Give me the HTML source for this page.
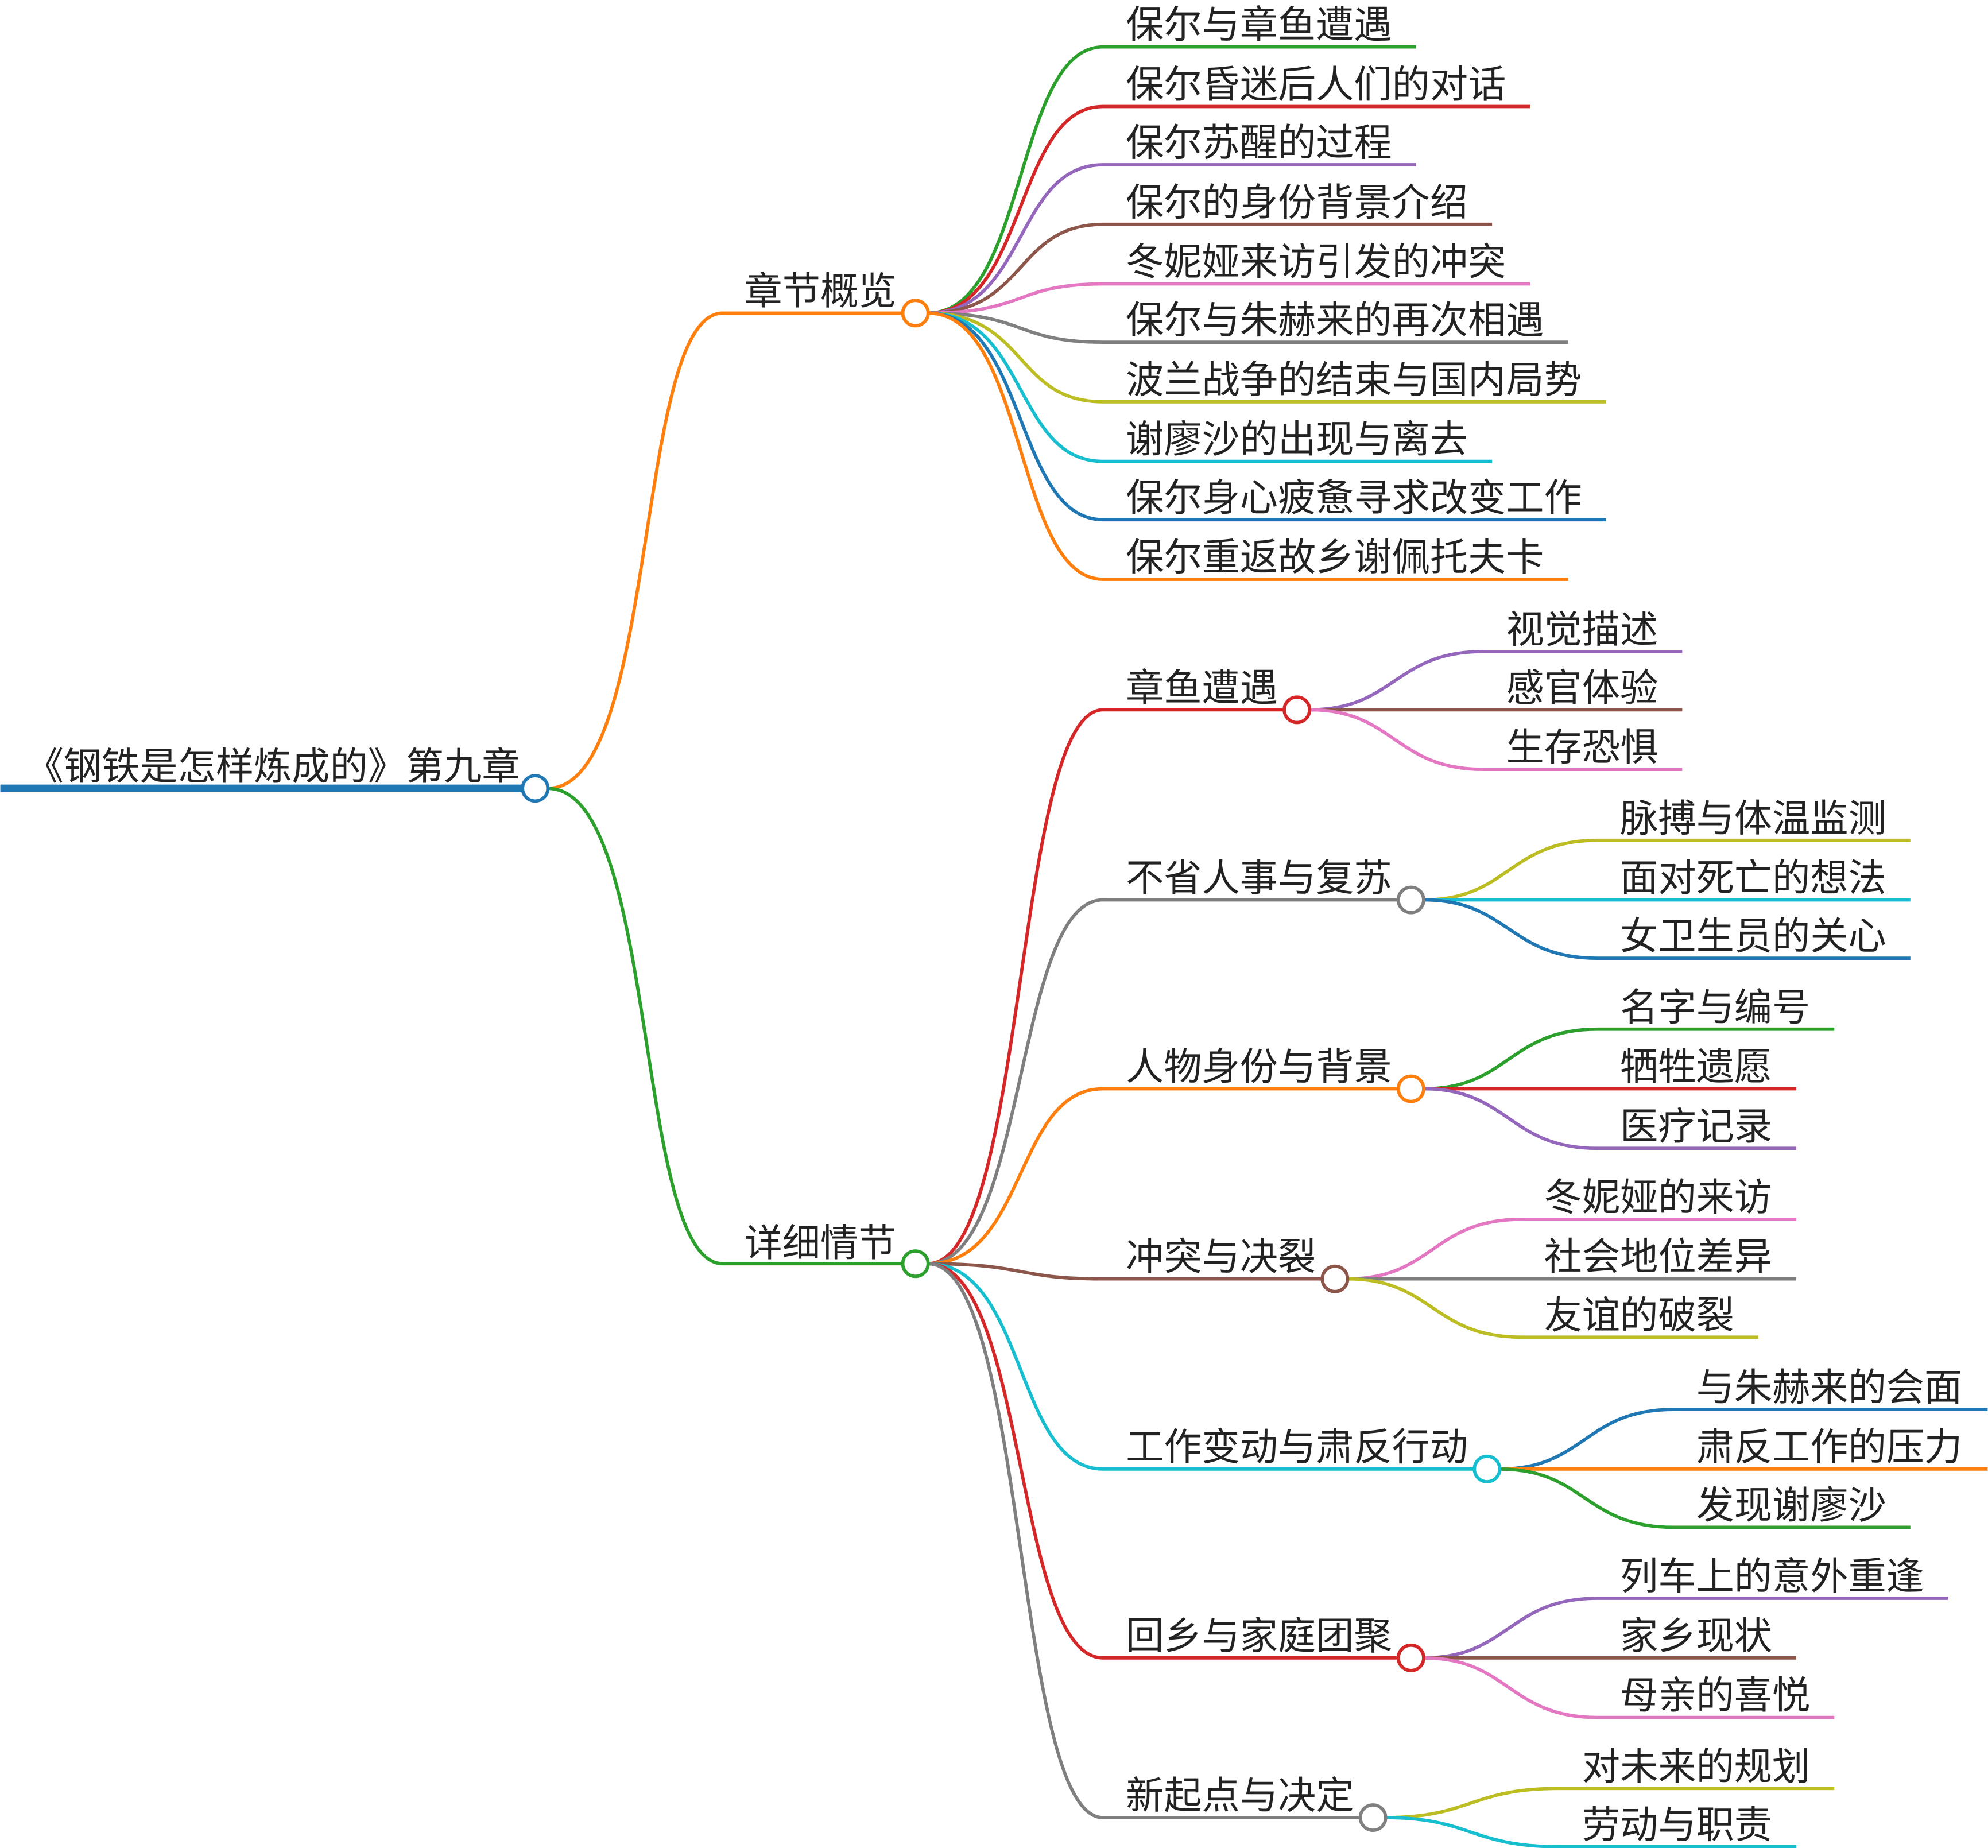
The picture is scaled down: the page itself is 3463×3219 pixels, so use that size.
<!DOCTYPE html>
<html><head><meta charset="utf-8"><style>
html,body{margin:0;padding:0;background:#fff;}
svg{display:block;}
text{font-family:"Liberation Sans","Noto Sans CJK SC",sans-serif;font-size:30px;fill:#222;}
path{fill:none;stroke-width:2.6;}
circle{fill:#fff;stroke-width:2.6;}
</style></head><body>
<svg width="3463" height="3219" viewBox="0 0 1568 1458" xmlns="http://www.w3.org/2000/svg">
<!-- root -->
<path d="M0,622 L412,622" stroke="#1f77b4" style="stroke-width:6"/>
<text x="20" y="615">《钢铁是怎样炼成的》第九章</text>
<!-- branch 1 -->
<path d="M432,622 C520,622 500,247 570,247 L712,247" stroke="#ff7f0e"/>
<text x="587" y="240">章节概览</text>
<path d="M732,247 C810,247 800,37 870,37 L1117,37" stroke="#2ca02c"/>
<path d="M732,247 C810,247 800,84 870,84 L1207,84" stroke="#d62728"/>
<path d="M732,247 C810,247 800,130 870,130 L1117,130" stroke="#9467bd"/>
<path d="M732,247 C810,247 800,177 870,177 L1177,177" stroke="#8c564b"/>
<path d="M732,247 C810,247 800,224 870,224 L1207,224" stroke="#e377c2"/>
<path d="M732,247 C810,247 800,270 870,270 L1237,270" stroke="#7f7f7f"/>
<path d="M732,247 C810,247 800,317 870,317 L1267,317" stroke="#bcbd22"/>
<path d="M732,247 C810,247 800,364 870,364 L1177,364" stroke="#17becf"/>
<path d="M732,247 C810,247 800,410 870,410 L1267,410" stroke="#1f77b4"/>
<path d="M732,247 C810,247 800,457 870,457 L1237,457" stroke="#ff7f0e"/>
<text x="888" y="30">保尔与章鱼遭遇</text>
<text x="888" y="77">保尔昏迷后人们的对话</text>
<text x="888" y="123">保尔苏醒的过程</text>
<text x="888" y="170">保尔的身份背景介绍</text>
<text x="888" y="217">冬妮娅来访引发的冲突</text>
<text x="888" y="263">保尔与朱赫来的再次相遇</text>
<text x="888" y="310">波兰战争的结束与国内局势</text>
<text x="888" y="357">谢廖沙的出现与离去</text>
<text x="888" y="403">保尔身心疲惫寻求改变工作</text>
<text x="888" y="450">保尔重返故乡谢佩托夫卡</text>
<circle cx="722" cy="247" r="10" stroke="#ff7f0e"/>
<!-- branch 2 -->
<path d="M432,622 C520,622 500,997 570,997 L712,997" stroke="#2ca02c"/>
<text x="587" y="991">详细情节</text>
<path d="M732,997 C810,997 800,560 870,560 L1013,560" stroke="#d62728"/>
<path d="M732,997 C810,997 800,710 870,710 L1103,710" stroke="#7f7f7f"/>
<path d="M732,997 C810,997 800,859 870,859 L1103,859" stroke="#ff7f0e"/>
<path d="M732,997 C810,997 800,1009 870,1009 L1043,1009" stroke="#8c564b"/>
<path d="M732,997 C810,997 800,1159 870,1159 L1163,1159" stroke="#17becf"/>
<path d="M732,997 C810,997 800,1308 870,1308 L1103,1308" stroke="#d62728"/>
<path d="M732,997 C810,997 800,1434 870,1434 L1073,1434" stroke="#7f7f7f"/>
<text x="888" y="553">章鱼遭遇</text>
<text x="888" y="703">不省人事与复苏</text>
<text x="888" y="852">人物身份与背景</text>
<text x="888" y="1002">冲突与决裂</text>
<text x="888" y="1152">工作变动与肃反行动</text>
<text x="888" y="1301">回乡与家庭团聚</text>
<text x="888" y="1427">新起点与决定</text>
<!-- grandchildren -->
<path d="M1033,560 C1100,560 1100,514 1170,514 L1327,514" stroke="#9467bd"/>
<path d="M1033,560 L1327,560" stroke="#8c564b"/>
<path d="M1033,560 C1100,560 1100,607 1170,607 L1327,607" stroke="#e377c2"/>
<text x="1188" y="507">视觉描述</text><text x="1188" y="553">感官体验</text><text x="1188" y="600">生存恐惧</text>

<path d="M1123,710 C1190,710 1190,663 1260,663 L1507,663" stroke="#bcbd22"/>
<path d="M1123,710 L1507,710" stroke="#17becf"/>
<path d="M1123,710 C1190,710 1190,756 1260,756 L1507,756" stroke="#1f77b4"/>
<text x="1278" y="656">脉搏与体温监测</text><text x="1278" y="703">面对死亡的想法</text><text x="1278" y="749">女卫生员的关心</text>

<path d="M1123,859 C1190,859 1190,812 1260,812 L1447,812" stroke="#2ca02c"/>
<path d="M1123,859 L1417,859" stroke="#d62728"/>
<path d="M1123,859 C1190,859 1190,906 1260,906 L1417,906" stroke="#9467bd"/>
<text x="1278" y="805">名字与编号</text><text x="1278" y="852">牺牲遗愿</text><text x="1278" y="899">医疗记录</text>

<path d="M1063,1009 C1130,1009 1130,962 1200,962 L1417,962" stroke="#e377c2"/>
<path d="M1063,1009 L1417,1009" stroke="#7f7f7f"/>
<path d="M1063,1009 C1130,1009 1130,1055 1200,1055 L1387,1055" stroke="#bcbd22"/>
<text x="1218" y="955">冬妮娅的来访</text><text x="1218" y="1002">社会地位差异</text><text x="1218" y="1048">友谊的破裂</text>

<path d="M1183,1159 C1250,1159 1250,1112 1320,1112 L1568,1112" stroke="#1f77b4"/>
<path d="M1183,1159 L1568,1159" stroke="#ff7f0e"/>
<path d="M1183,1159 C1250,1159 1250,1205 1320,1205 L1507,1205" stroke="#2ca02c"/>
<text x="1338" y="1105">与朱赫来的会面</text><text x="1338" y="1152">肃反工作的压力</text><text x="1338" y="1198">发现谢廖沙</text>

<path d="M1123,1308 C1190,1308 1190,1261 1260,1261 L1537,1261" stroke="#9467bd"/>
<path d="M1123,1308 L1417,1308" stroke="#8c564b"/>
<path d="M1123,1308 C1190,1308 1190,1355 1260,1355 L1447,1355" stroke="#e377c2"/>
<text x="1278" y="1254">列车上的意外重逢</text><text x="1278" y="1301">家乡现状</text><text x="1278" y="1348">母亲的喜悦</text>

<path d="M1093,1434 C1160,1434 1160,1411 1230,1411 L1447,1411" stroke="#bcbd22"/>
<path d="M1093,1434 C1160,1434 1160,1457 1230,1457 L1417,1457" stroke="#17becf"/>
<text x="1248" y="1404">对未来的规划</text><text x="1248" y="1450">劳动与职责</text>

<circle cx="1023" cy="560" r="10" stroke="#d62728"/>
<circle cx="1113" cy="710" r="10" stroke="#7f7f7f"/>
<circle cx="1113" cy="859" r="10" stroke="#ff7f0e"/>
<circle cx="1053" cy="1009" r="10" stroke="#8c564b"/>
<circle cx="1173" cy="1159" r="10" stroke="#17becf"/>
<circle cx="1113" cy="1308" r="10" stroke="#d62728"/>
<circle cx="1083" cy="1434" r="10" stroke="#7f7f7f"/>
<circle cx="722" cy="997" r="10" stroke="#2ca02c"/>
<circle cx="422" cy="622" r="10" stroke="#1f77b4"/>
</svg>
</body></html>
